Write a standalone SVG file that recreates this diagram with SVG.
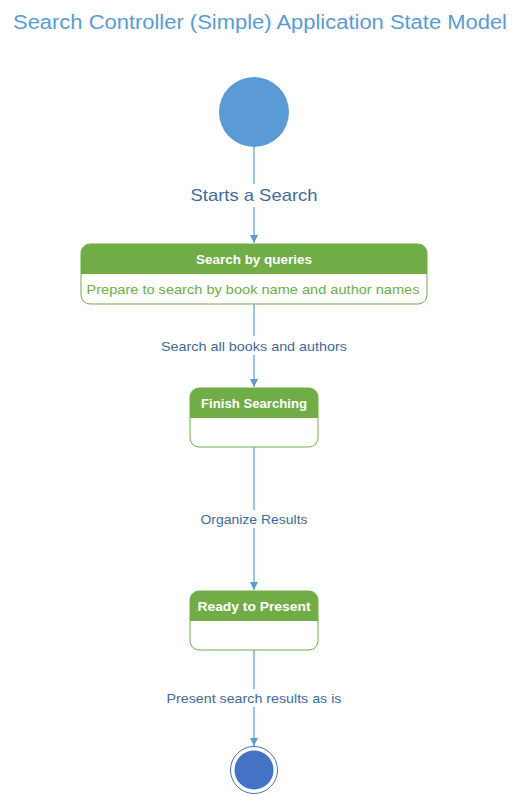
<svg xmlns="http://www.w3.org/2000/svg" width="520" height="796" viewBox="0 0 520 796">
<style>
.title{font-family:"Liberation Sans",Arial,sans-serif;font-size:20px;fill:#5B9BD5}
.lbl{font-family:"Liberation Sans",Arial,sans-serif;font-size:13px;fill:#3F6A99}
.hdr{font-family:"Liberation Sans",Arial,sans-serif;font-size:13px;font-weight:bold;fill:#FFFFFF}
.body{font-family:"Liberation Sans",Arial,sans-serif;font-size:13px;fill:#70AD47}
.conn{stroke:#5B9BD5;stroke-width:1.2;fill:none}
.box{fill:#FFFFFF;stroke:#70AD47;stroke-width:1}
.head{fill:#70AD47}
</style>
<defs>
<marker id="arr" viewBox="0 0 10 10" refX="10" refY="5" markerWidth="8" markerHeight="8" markerUnits="userSpaceOnUse" orient="auto">
<path d="M0,0 L10,5 L0,10 z" fill="#5B9BD5"/>
</marker>
</defs>
<rect width="520" height="796" fill="#FFFFFF"/>
<text class="title" x="260" y="29" text-anchor="middle" textLength="494" lengthAdjust="spacingAndGlyphs">Search Controller (Simple) Application State Model</text>

<g id="connectors">
<line class="conn" x1="254" y1="147" x2="254" y2="184"/>
<line class="conn" x1="254" y1="207" x2="254" y2="243" marker-end="url(#arr)"/>
<text class="lbl" x="254" y="201" text-anchor="middle" style="font-size:17px" textLength="127" lengthAdjust="spacingAndGlyphs">Starts a Search</text>

<line class="conn" x1="254" y1="304" x2="254" y2="336"/>
<line class="conn" x1="254" y1="355" x2="254" y2="387" marker-end="url(#arr)"/>
<text class="lbl" x="254" y="351" text-anchor="middle" textLength="186" lengthAdjust="spacingAndGlyphs">Search all books and authors</text>

<line class="conn" x1="254" y1="447" x2="254" y2="510"/>
<line class="conn" x1="254" y1="528" x2="254" y2="590" marker-end="url(#arr)"/>
<text class="lbl" x="254" y="524" text-anchor="middle" textLength="107" lengthAdjust="spacingAndGlyphs">Organize Results</text>

<line class="conn" x1="254" y1="650" x2="254" y2="689"/>
<line class="conn" x1="254" y1="707" x2="254" y2="746" marker-end="url(#arr)"/>
<text class="lbl" x="254" y="703" text-anchor="middle" textLength="175" lengthAdjust="spacingAndGlyphs">Present search results as is</text>
</g>

<g id="start">
<circle cx="254" cy="112" r="35" fill="#5B9BD5"/>
</g>

<g id="search-by-queries">
<rect class="box" x="81" y="244" width="346" height="60" rx="9"/>
<path class="head" d="M81,274 V253 A9,9 0 0 1 90,244 H418 A9,9 0 0 1 427,253 V274 Z"/>
<text class="hdr" x="254" y="264" text-anchor="middle" textLength="116" lengthAdjust="spacingAndGlyphs">Search by queries</text>
<text class="body" x="253" y="294" text-anchor="middle" textLength="333" lengthAdjust="spacingAndGlyphs">Prepare to search by book name and author names</text>
</g>

<g id="finish-searching">
<rect class="box" x="190" y="388" width="128" height="59" rx="9"/>
<path class="head" d="M190,418 V397 A9,9 0 0 1 199,388 H309 A9,9 0 0 1 318,397 V418 Z"/>
<text class="hdr" x="254" y="408" text-anchor="middle" textLength="106" lengthAdjust="spacingAndGlyphs">Finish Searching</text>
</g>

<g id="ready-to-present">
<rect class="box" x="190" y="591" width="128" height="59" rx="9"/>
<path class="head" d="M190,621 V600 A9,9 0 0 1 199,591 H309 A9,9 0 0 1 318,600 V621 Z"/>
<text class="hdr" x="254" y="611" text-anchor="middle" textLength="113" lengthAdjust="spacingAndGlyphs">Ready to Present</text>
</g>

<g id="end">
<circle cx="254" cy="770" r="23.5" fill="#FFFFFF" stroke="#4472C4" stroke-width="1"/>
<circle cx="254" cy="770" r="19.5" fill="#4472C4"/>
</g>
</svg>
